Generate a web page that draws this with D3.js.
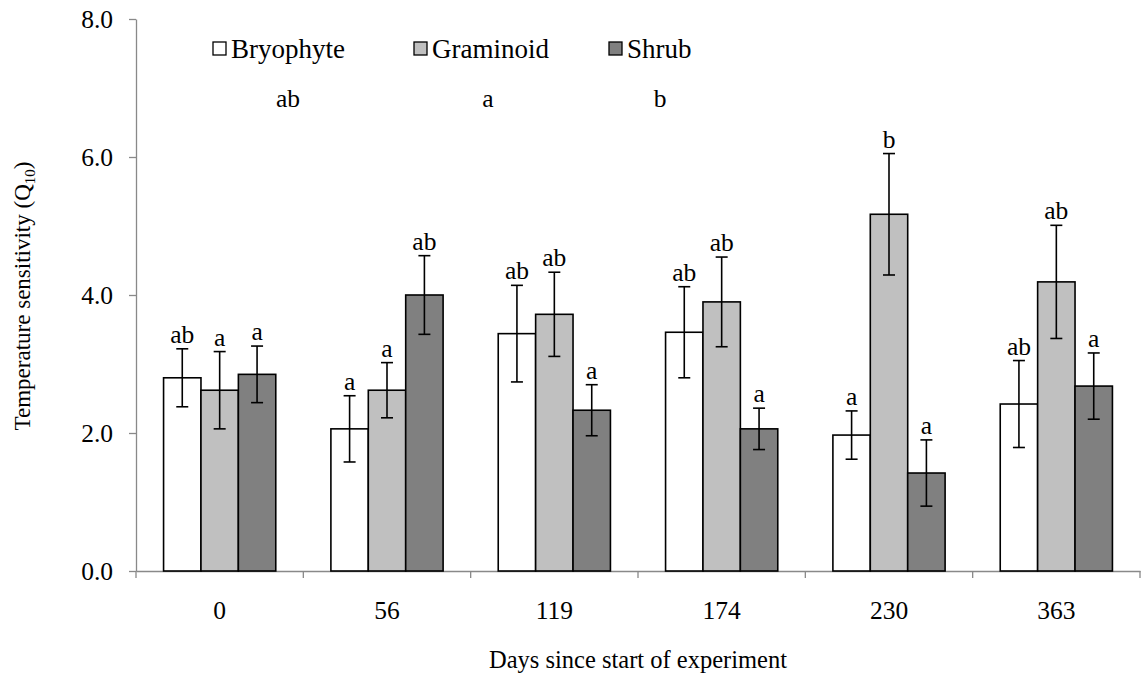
<!DOCTYPE html>
<html><head><meta charset="utf-8">
<script src="https://cdn.jsdelivr.net/npm/d3@7"></script>
<style>body{margin:0;background:#fff;} text{font-family:"Liberation Serif","Times New Roman",serif;fill:#000;}</style>
</head><body><svg id="c" width="1146" height="679"></svg>
<script>
const categories = ["0","56","119","174","230","363"];
const seriesNames = ["Bryophyte","Graminoid","Shrub"];
const seriesColors = ["#ffffff","#c0c0c0","#808080"];
const bryophyte = [2.80,2.06,3.44,3.46,1.97,2.42];
const graminoid = [2.62,2.62,3.72,3.90,5.17,4.19];
const shrub = [2.85,4.00,2.33,2.06,1.42,2.68];
const bryophyteErr = [0.42,0.48,0.70,0.66,0.35,0.63];
const graminoidErr = [0.56,0.40,0.61,0.65,0.88,0.82];
const shrubErr = [0.41,0.57,0.37,0.30,0.48,0.48];
const bryophyteLetters = ["ab","a","ab","ab","a","ab"];
const graminoidLetters = ["a","a","ab","ab","b","ab"];
const shrubLetters = ["a","ab","a","a","a","a"];
const legendLetters = ["ab","a","b"];
const yTicks = [0,2,4,6,8];

const values=[bryophyte,graminoid,shrub], errs=[bryophyteErr,graminoidErr,shrubErr], letters=[bryophyteLetters,graminoidLetters,shrubLetters];
const svg=d3.select("#c");
const L=136,R=1140,T=19,B=571;
const FS=25.5;
const x=d3.scaleBand().domain(categories).range([L,R]).paddingInner(0).paddingOuter(0);
const bw=37.4;
const xs=d3.scaleBand().domain(seriesNames).range([0,bw*3]);
const y=d3.scaleLinear().domain([0,8]).range([B,T]);
const axisCol="#898989";

// axes
const ya=svg.append("g").attr("transform",`translate(${L},0)`).call(d3.axisLeft(y).tickValues(yTicks).tickFormat(d3.format(".1f")).tickSize(7).tickSizeOuter(0));
ya.select(".domain").attr("stroke",axisCol).attr("stroke-width",1.3);
ya.selectAll(".tick line").attr("stroke",axisCol).attr("stroke-width",1.3);
ya.selectAll(".tick text").attr("font-size",FS).attr("x",-23).attr("dy","0.33em").attr("font-family","Liberation Serif");

const xa=svg.append("g").attr("transform",`translate(0,${B})`).call(d3.axisBottom(x).tickSize(0).tickSizeOuter(0));
xa.select(".domain").attr("stroke",axisCol).attr("stroke-width",1.3);
xa.selectAll(".tick text").attr("font-size",FS).attr("dy",0).attr("y",48).attr("font-family","Liberation Serif");
// boundary ticks
const bounds=categories.map(c=>x(c)).concat([R]);
svg.append("g").selectAll("line").data(bounds).join("line")
 .attr("x1",d=>d).attr("x2",d=>d).attr("y1",B).attr("y2",B+7).attr("stroke",axisCol).attr("stroke-width",1.3);

// bars
seriesNames.forEach((s,si)=>{
  const g=svg.append("g");
  categories.forEach((c,ci)=>{
    const cx=x(c)+x.bandwidth()/2-bw*1.5+xs(s);
    const v=values[si][ci], e=errs[si][ci];
    g.append("rect").attr("x",cx).attr("y",y(v)).attr("width",bw).attr("height",B-y(v))
      .attr("fill",seriesColors[si]).attr("stroke","#000").attr("stroke-width",1.6);
    const mx=cx+bw/2;
    g.append("line").attr("x1",mx).attr("x2",mx).attr("y1",y(v+e)).attr("y2",y(v-e)).attr("stroke","#000").attr("stroke-width",1.6);
    [v+e,v-e].forEach(t=>g.append("line").attr("x1",mx-6).attr("x2",mx+6).attr("y1",y(t)).attr("y2",y(t)).attr("stroke","#000").attr("stroke-width",1.6));
    g.append("text").attr("x",mx).attr("y",y(v+e)-6).attr("text-anchor","middle").attr("font-size",FS).text(letters[si][ci]);
  });
});

// legend
const legX=[213,414,609];
const legLetterX=[288,488,660];
seriesNames.forEach((s,i)=>{
  svg.append("rect").attr("x",legX[i]).attr("y",42).attr("width",13).attr("height",13)
    .attr("fill",seriesColors[i]).attr("stroke","#000").attr("stroke-width",1.3);
  svg.append("text").attr("x",legX[i]+18).attr("y",58).attr("font-size",27).text(s);
  svg.append("text").attr("x",legLetterX[i]).attr("y",107).attr("text-anchor","middle").attr("font-size",FS).text(legendLetters[i]);
});

// axis titles
const yt=svg.append("text").attr("transform","translate(30,296) rotate(-90)").attr("text-anchor","middle").attr("font-size",23);
yt.append("tspan").text("Temperature sensitivity (Q");
yt.append("tspan").attr("font-size",15).attr("dy",5).text("10");
yt.append("tspan").attr("dy",-5).text(")");
svg.append("text").attr("x",638).attr("y",668).attr("text-anchor","middle").attr("font-size",24.5).text("Days since start of experiment");
</script></body></html>
